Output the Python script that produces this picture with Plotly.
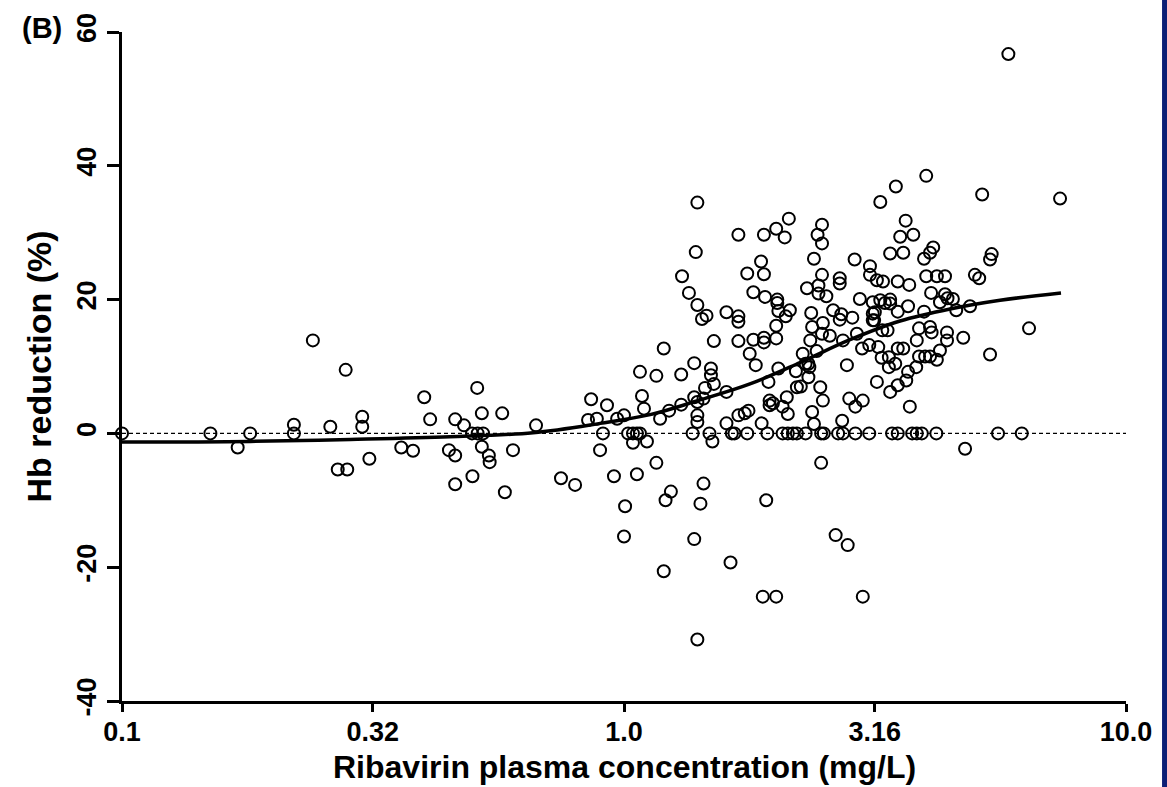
import plotly.graph_objects as go

NAVY = "#0c1f76"
FONT = "Liberation Sans, Arial, Helvetica, sans-serif"

# Ribavirin plasma concentration (mg/L) and Hb reduction (%) per patient
# -- concentrations below ~0.45 mg/L
conc_low = [0.100, 0.150, 0.170, 0.180, 0.220, 0.220, 0.240, 0.260, 0.279,
            0.269, 0.281, 0.301, 0.301, 0.311, 0.360, 0.380, 0.400, 0.411]
hb_low = [0, 0, -2.1, 0, 1.3, 0, 13.9, 1.0, 9.5,
          -5.4, -5.4, 2.5, 1.0, -3.8, -2.1, -2.6, 5.4, 2.1]

# -- concentrations between ~0.45 and ~1.1 mg/L
conc_mid = [0.461, 0.448, 0.461, 0.461, 0.480, 0.499, 0.510, 0.521, 0.498, 0.511,
            0.524, 0.521, 0.538, 0.540, 0.572, 0.601, 0.579, 0.668, 0.749, 0.799,
            0.860, 0.848, 0.883, 0.925, 0.908, 0.896, 0.955, 0.969, 1.000, 1.005,
            1.000, 1.019, 1.042, 1.061, 1.076, 1.042, 1.111, 1.061, 1.076, 1.086,
            1.096]
hb_mid = [2.1, -2.5, -3.3, -7.6, 1.2, -6.4, 6.8, 3.0, 0, 0,
          0, -2.0, -3.3, -4.3, 3.0, -2.5, -8.8, 1.2, -6.7, -7.7,
          5.1, 2.0, 2.2, 4.2, 0, -2.5, -6.4, 2.2, 2.7, -10.9,
          -15.4, 0, 0, 0, 0, -1.4, -1.2, -6.1, 9.2, 5.6,
          3.7]

# -- higher concentrations, larger reductions (>= ~16 %)
conc_top = [4.00, 3.48, 3.24, 1.40, 2.13, 2.01, 1.90, 1.69, 2.09, 2.48,
            2.43, 2.48, 3.64, 3.55, 3.77, 1.39, 2.39, 2.88, 3.39, 3.60,
            4.13, 4.07, 3.96, 1.875, 1.305, 1.76, 1.90, 2.48, 3.09, 3.09,
            2.69, 2.69, 3.19, 3.28, 3.51, 3.70, 4.00, 4.20, 4.36, 1.347,
            1.81, 1.91, 2.315, 2.44, 2.44, 2.53, 2.95, 2.02, 2.02, 2.03,
            1.40, 1.46, 1.43, 1.60, 1.69, 1.69, 2.14, 2.10, 2.36, 2.61,
            2.71, 2.69, 2.85, 3.13, 3.24, 3.31, 3.39, 3.39, 3.16, 3.13,
            3.51, 3.68, 3.96, 4.09, 4.36, 4.41, 4.26,
            5.17, 7.39, 5.40, 5.36, 5.00, 5.10, 4.52, 4.59, 4.89, 5.83]
hb_top = [38.5, 36.9, 34.6, 34.5, 32.1, 30.6, 29.7, 29.7, 29.3, 31.2,
          29.7, 28.4, 31.8, 29.4, 29.7, 27.1, 26.1, 26.0, 26.9, 27.0,
          27.8, 27.0, 26.1, 25.7, 23.5, 23.9, 23.8, 23.7, 25.0, 23.7,
          23.2, 22.4, 22.9, 22.7, 22.7, 22.2, 23.5, 23.5, 23.5, 21.0,
          21.1, 20.4, 21.7, 22.1, 20.9, 20.5, 20.1, 20.0, 19.5, 18.3,
          19.2, 17.6, 17.1, 18.1, 17.5, 16.7, 18.4, 17.5, 18.0, 18.4,
          17.8, 17.0, 17.3, 19.6, 19.9, 19.5, 20.0, 19.4, 18.1, 16.9,
          18.2, 19.0, 18.2, 21.0, 20.8, 20.2, 19.6,
          35.7, 35.1, 26.8, 26.0, 23.7, 23.2, 20.1, 18.4, 19.0, 56.7]

# -- higher concentrations, moderate reductions (0-16 %)
conc_rise = [1.51, 1.69, 1.81, 1.90, 1.90, 2.01, 2.01, 1.78, 1.83, 1.20,
             1.38, 1.16, 1.30, 1.49, 1.49, 1.51, 1.45, 1.44, 1.40, 1.40,
             1.38, 1.40, 1.30, 1.23, 1.18, 1.60, 1.60, 1.69, 1.74, 1.77,
             1.94, 2.03, 1.88, 1.95, 1.98, 1.95, 2.11, 2.07, 2.12, 2.20,
             2.21, 2.25, 2.27, 2.30, 2.37, 2.35, 2.42, 2.49, 2.48, 2.57,
             2.33, 2.34, 2.33, 2.46, 2.49, 2.37, 2.39, 2.73, 2.78, 2.72,
             2.81, 2.89, 2.99, 2.91, 2.98, 3.08, 3.13, 3.15, 3.21, 3.26,
             3.37, 3.37, 3.47, 3.19, 3.39, 3.51, 3.27, 3.35, 3.51, 3.60,
             3.68, 3.65, 3.71, 3.83, 3.87, 3.82, 3.87, 3.98, 4.07, 4.07,
             4.10, 4.20, 4.26, 4.40, 4.40, 4.74, 6.41, 5.36]
hb_rise = [13.8, 13.8, 14.0, 14.3, 13.6, 16.1, 14.2, 11.9, 10.2, 12.7,
           10.5, 8.6, 8.8, 9.7, 8.7, 7.4, 6.8, 5.2, 4.7, 1.7,
           5.4, 2.7, 4.3, 3.4, 2.2, 6.2, 1.5, 2.7, 3.0, 3.4,
           7.7, 9.7, 1.5, 4.9, 4.5, 4.2, 5.4, 4.0, 2.9, 9.3,
           6.9, 7.0, 11.9, 10.4, 15.9, 13.9, 12.3, 16.5, 14.9, 14.6,
           10.4, 9.9, 8.4, 6.9, 4.9, 3.2, 1.4, 13.9, 10.2, 1.9,
           5.2, 4.0, 4.9, 14.9, 12.7, 13.2, 17.9, 16.9, 12.9, 11.3,
           11.4, 9.9, 10.4, 7.7, 6.2, 7.2, 15.4, 15.4, 12.7, 12.7,
           9.2, 7.9, 4.0, 13.9, 15.7, 9.9, 11.5, 11.5, 11.5, 15.9,
           15.1, 11.0, 12.4, 15.1, 13.9, 14.3, 15.7, 11.8]

# -- patients with no Hb change
conc_zero = [1.37, 1.48, 1.64, 1.66, 1.76, 1.93, 2.07, 2.12, 2.17, 2.21,
             2.30, 2.47, 2.50, 2.67, 2.73, 2.89, 3.08, 3.42, 3.51, 3.75,
             3.83, 3.92, 4.19, 5.56, 6.20]
hb_zero = [0] * len(conc_zero)

# -- higher concentrations, Hb increase (negative reduction)
conc_neg = [1.50, 4.78, 1.16, 2.47, 1.44, 1.24, 1.21, 1.42, 1.92, 1.38,
            2.64, 2.79, 1.20, 1.63, 1.89, 2.01, 2.99, 1.40]
hb_neg = [-1.2, -2.3, -4.4, -4.4, -7.5, -8.7, -10.0, -10.5, -10.0, -15.8,
          -15.2, -16.7, -20.6, -19.3, -24.4, -24.4, -24.4, -30.8]

# Fitted concentration-effect curve
fit_conc = [0.100, 0.180, 0.285, 0.450, 0.659, 0.896, 1.127, 1.417,
            1.782, 2.243, 2.820, 3.547, 4.462, 5.613, 7.422]
fit_hb = [-1.3, -1.2, -0.9, -0.5, 0.1, 1.5, 2.8, 5.0,
          7.4, 10.6, 14.0, 16.8, 18.6, 19.9, 21.0]

x_tickvals = [0.1, 0.316, 1.0, 3.16, 10.0]
x_ticktext = ["0.1", "0.32", "1.0", "3.16", "10.0"]
y_tickvals = [-40, -20, 0, 20, 40, 60]
y_ticktext = ["-40", "-20", "0", "20", "40", "60"]

conc_all = conc_low + conc_mid + conc_top + conc_rise + conc_zero + conc_neg
hb_all = hb_low + hb_mid + hb_top + hb_rise + hb_zero + hb_neg

fig = go.Figure()

# reference line at no change
fig.add_shape(type="line", xref="x domain", x0=0, x1=1, yref="y", y0=0, y1=0,
              line=dict(color="black", width=1.4, dash="4px,3px"), layer="below")

fig.add_trace(go.Scatter(
    x=conc_all, y=hb_all, mode="markers",
    marker=dict(symbol="circle-open", size=12, color="black",
                line=dict(width=2, color="black")),
    cliponaxis=False, showlegend=False, hoverinfo="skip"))

fig.add_trace(go.Scatter(
    x=fit_conc, y=fit_hb, mode="lines",
    line=dict(color="black", width=3.5, shape="spline", smoothing=1.0),
    showlegend=False, hoverinfo="skip"))

tick_font = dict(family=FONT, size=27, color="black", weight="bold")

fig.update_layout(
    width=1167, height=787,
    margin=dict(l=122, r=41, t=32, b=86),
    paper_bgcolor="white", plot_bgcolor="white",
    showlegend=False,
    xaxis=dict(type="log", range=[-1, 1], tickvals=x_tickvals, ticktext=x_ticktext,
               ticks="outside", ticklen=8, tickwidth=3, tickcolor="black",
               showline=True, linewidth=3, linecolor="black",
               showgrid=False, zeroline=False, tickfont=tick_font,
               ticklabelstandoff=-3),
    yaxis=dict(range=[-40, 60], tickvals=y_tickvals, ticktext=y_ticktext,
               ticks="outside", ticklen=12, tickwidth=3, tickcolor="black",
               showline=True, linewidth=3, linecolor="black",
               showgrid=False, zeroline=False, tickfont=tick_font,
               tickangle=-90, ticklabelstandoff=0),
    shapes=[
        dict(type="rect", xref="paper", yref="paper", x0=-0.2, x1=1.1,
             y0=1.0404, y1=1.2, fillcolor=NAVY, line=dict(width=0)),
        dict(type="rect", xref="paper", yref="paper", x0=1.0359, x1=1.1,
             y0=-0.2, y1=1.2, fillcolor=NAVY, line=dict(width=0)),
    ],
    annotations=[
        dict(text="(B)", xref="paper", yref="paper", x=-0.0797, y=1.006,
             xanchor="center", yanchor="middle", showarrow=False,
             font=dict(family=FONT, size=29, color="black", weight="bold")),
        dict(text="Ribavirin plasma concentration (mg/L)", xref="paper", yref="paper",
             x=0.5, y=-0.0987, xanchor="center", yanchor="middle", showarrow=False,
             font=dict(family=FONT, size=32, color="black", weight="bold")),
        dict(text="Hb reduction (%)", xref="paper", yref="paper",
             x=-0.0827, y=0.5, xanchor="center", yanchor="middle", textangle=-90,
             showarrow=False,
             font=dict(family=FONT, size=34, color="black", weight="bold")),
    ],
)

fig.write_html("out.html")
